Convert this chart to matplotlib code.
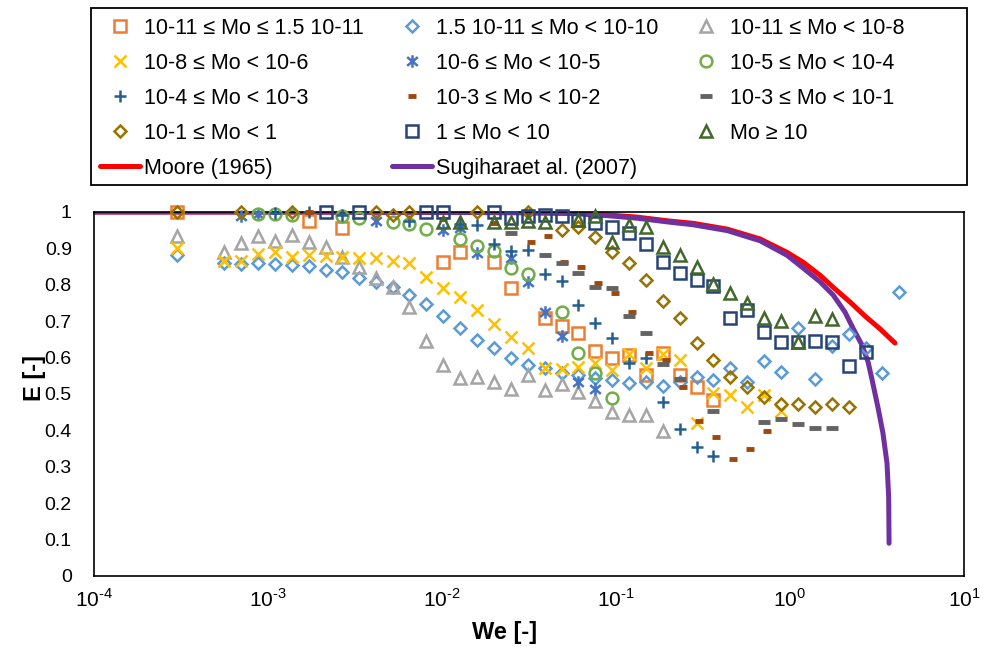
import matplotlib
matplotlib.use("Agg")
import matplotlib.pyplot as plt
from matplotlib.path import Path
from matplotlib.patches import Rectangle
from matplotlib.ticker import FuncFormatter, LogLocator, NullLocator, MultipleLocator
import math

plt.rcParams['font.family'] = ['Liberation Sans', 'DejaVu Sans']
plt.rcParams['mathtext.fontset'] = 'custom'
plt.rcParams['mathtext.rm'] = 'Liberation Sans'

# ---- data (We, E) ----
labels = ["10-11 \u2264 Mo \u2264 1.5 10-11", "1.5 10-11 \u2264 Mo < 10-10", "10-11 \u2264 Mo < 10-8",
          "10-8 \u2264 Mo < 10-6", "10-6 \u2264 Mo < 10-5", "10-5 \u2264 Mo < 10-4",
          "10-4 \u2264 Mo < 10-3", "10-3 \u2264 Mo < 10-2", "10-3 \u2264 Mo < 10-1",
          "10-1 \u2264 Mo < 1", "1 \u2264 Mo < 10", "Mo \u2265 10"]

we1 = [3.00e-4, 1.72e-3, 2.66e-3, 1.01e-2, 1.27e-2, 1.99e-2, 2.49e-2, 3.91e-2, 4.90e-2, 6.05e-2,
       7.57e-2, 9.48e-2, 0.119, 0.149, 0.186, 0.233, 0.292, 0.361]
e1 = [1.0, 0.975, 0.956, 0.863, 0.89, 0.863, 0.79, 0.71, 0.687, 0.667,
      0.618, 0.60, 0.607, 0.552, 0.612, 0.552, 0.52, 0.484]

we2 = [3.00e-4, 5.58e-4, 7.00e-4, 8.77e-4, 1.10e-3, 1.37e-3, 1.72e-3, 2.15e-3, 2.66e-3, 3.33e-3,
       4.18e-3, 5.22e-3, 6.45e-3, 8.1e-3, 1.01e-2, 1.27e-2, 1.59e-2, 1.99e-2, 2.49e-2, 3.12e-2,
       3.91e-2, 4.90e-2, 6.05e-2, 7.57e-2, 9.48e-2, 0.119, 0.149, 0.186, 0.233, 0.292,
       0.361, 0.452, 0.566, 0.710, 0.888, 1.11, 1.39, 1.74, 2.18, 2.73, 3.37, 4.24]
e2 = [0.882, 0.86, 0.857, 0.86, 0.857, 0.854, 0.852, 0.84, 0.835, 0.82,
      0.808, 0.794, 0.772, 0.747, 0.714, 0.681, 0.648, 0.626, 0.599, 0.58,
      0.571, 0.558, 0.552, 0.544, 0.538, 0.53, 0.533, 0.522, 0.533, 0.547,
      0.538, 0.571, 0.533, 0.59, 0.56, 0.681, 0.541, 0.632, 0.665, 0.626, 0.558, 0.78]

we3 = [3.00e-4, 5.58e-4, 7.00e-4, 8.77e-4, 1.10e-3, 1.37e-3, 1.72e-3, 2.15e-3, 2.66e-3, 3.33e-3,
       4.18e-3, 5.22e-3, 6.45e-3, 8.1e-3, 1.01e-2, 1.27e-2, 1.59e-2, 1.99e-2, 2.49e-2, 3.12e-2,
       3.91e-2, 4.90e-2, 6.05e-2, 7.57e-2, 9.48e-2, 0.119, 0.149, 0.186]
e3 = [0.934, 0.89, 0.915, 0.934, 0.92, 0.937, 0.918, 0.904, 0.876, 0.849,
      0.819, 0.794, 0.739, 0.646, 0.58, 0.544, 0.547, 0.533, 0.514, 0.552,
      0.511, 0.527, 0.505, 0.481, 0.451, 0.441, 0.441, 0.398]

we4 = [3.00e-4, 5.58e-4, 7.00e-4, 8.77e-4, 1.10e-3, 1.37e-3, 1.72e-3, 2.15e-3, 2.66e-3, 3.33e-3,
       4.18e-3, 5.22e-3, 6.45e-3, 8.1e-3, 1.01e-2, 1.27e-2, 1.59e-2, 1.99e-2, 2.49e-2, 3.12e-2,
       3.91e-2, 4.90e-2, 6.05e-2, 7.57e-2, 9.48e-2, 0.119, 0.149, 0.186, 0.233, 0.292,
       0.361, 0.452, 0.566, 0.710, 0.888]
e4 = [0.901, 0.865, 0.865, 0.885, 0.89, 0.876, 0.882, 0.879, 0.876, 0.874,
      0.874, 0.865, 0.86, 0.821, 0.791, 0.766, 0.731, 0.692, 0.657, 0.627,
      0.571, 0.568, 0.574, 0.585, 0.566, 0.61, 0.571, 0.61, 0.593, 0.42,
      0.503, 0.497, 0.464, 0.497, 0.453]

we5 = [7.00e-4, 8.77e-4, 4.18e-3, 1.01e-2, 1.27e-2, 1.59e-2, 2.49e-2, 3.12e-2, 3.91e-2, 4.90e-2,
       6.05e-2, 7.57e-2]
e5 = [0.99, 0.995, 0.975, 0.95, 0.956, 0.887, 0.875, 0.807, 0.725, 0.66, 0.533, 0.513]

we6 = [8.77e-4, 1.10e-3, 1.37e-3, 2.66e-3, 3.33e-3, 5.22e-3, 6.5e-3, 8.1e-3, 1.27e-2, 1.59e-2,
       1.99e-2, 2.49e-2, 3.12e-2, 4.90e-2, 6.05e-2, 7.57e-2, 9.48e-2]
e6 = [0.995, 0.995, 0.992, 0.99, 0.984, 0.973, 0.967, 0.953, 0.926, 0.907,
      0.893, 0.846, 0.83, 0.725, 0.613, 0.558, 0.489]

we7 = [1.10e-3, 1.72e-3, 2.66e-3, 6.5e-3, 1.27e-2, 1.59e-2, 1.99e-2, 2.49e-2, 3.12e-2, 3.91e-2,
       4.90e-2, 6.05e-2, 7.57e-2, 9.48e-2, 0.119, 0.149, 0.186, 0.233, 0.292, 0.361]
e7 = [0.997, 1.0, 0.992, 0.975, 0.967, 0.964, 0.912, 0.893, 0.896, 0.83,
      0.81, 0.745, 0.695, 0.654, 0.585, 0.599, 0.478, 0.404, 0.354, 0.33]

we8 = [1.72e-3, 1.01e-2, 1.99e-2, 3.24e-2, 4.06e-2, 5.02e-2, 6.30e-2, 7.89e-2, 9.87e-2, 0.124,
       0.155, 0.194, 0.243, 0.300, 0.376, 0.470, 0.589, 0.738]
e8 = [1.0, 0.98, 0.97, 0.918, 0.934, 0.864, 0.848, 0.804, 0.778, 0.725,
      0.614, 0.593, 0.519, 0.426, 0.382, 0.321, 0.349, 0.398]

we9 = [2.49e-2, 3.91e-2, 4.90e-2, 6.05e-2, 7.57e-2, 9.48e-2, 0.119, 0.149, 0.186, 0.233,
       0.361, 0.710, 0.888, 1.11, 1.39, 1.74]
e9 = [0.942, 0.882, 0.86, 0.832, 0.794, 0.791, 0.714, 0.668, 0.582, 0.541,
      0.453, 0.423, 0.431, 0.418, 0.407, 0.407]

we10 = [3.00e-4, 7.00e-4, 1.37e-3, 4.18e-3, 5.22e-3, 6.5e-3, 1.59e-2, 3.12e-2, 4.90e-2, 6.05e-2,
        7.57e-2, 9.48e-2, 0.119, 0.149, 0.186, 0.233, 0.292, 0.361, 0.452, 0.566,
        0.710, 0.888, 1.11, 1.39, 1.74, 2.18]
e10 = [1.0, 1.0, 1.0, 1.0, 0.992, 1.0, 1.0, 1.0, 0.95, 0.959,
       0.931, 0.89, 0.86, 0.813, 0.755, 0.71, 0.64, 0.593, 0.547, 0.519,
       0.492, 0.473, 0.473, 0.464, 0.473, 0.464]

we11 = [2.15e-3, 3.33e-3, 8.1e-3, 1.01e-2, 1.99e-2, 2.49e-2, 3.12e-2, 3.91e-2, 4.90e-2, 6.05e-2,
        7.57e-2, 9.48e-2, 0.119, 0.149, 0.186, 0.233, 0.292, 0.361, 0.452, 0.566,
        0.710, 0.888, 1.11, 1.39, 1.74, 2.18, 2.73]
e11 = [1.0, 1.0, 1.0, 1.0, 1.0, 0.984, 0.988, 0.992, 0.99, 0.979,
       0.97, 0.959, 0.942, 0.912, 0.863, 0.832, 0.813, 0.797, 0.709, 0.731,
       0.67, 0.643, 0.643, 0.646, 0.643, 0.577, 0.615]

we12 = [1.01e-2, 1.27e-2, 1.99e-2, 2.49e-2, 3.12e-2, 3.91e-2, 6.05e-2, 7.57e-2, 9.48e-2, 0.119,
        0.149, 0.186, 0.233, 0.292, 0.361, 0.452, 0.566, 0.710, 0.888, 1.11, 1.39, 1.74]
e12 = [0.973, 0.973, 0.973, 0.973, 0.975, 0.973, 0.978, 0.989, 0.918, 0.964,
       0.959, 0.904, 0.882, 0.849, 0.802, 0.777, 0.75, 0.709, 0.70, 0.643, 0.714, 0.706]

# model curves
we_moore = [1e-4, 1e-3, 1e-2, 0.03, 0.0545, 0.0841, 0.132, 0.204, 0.277, 0.435, 0.673,
            0.962, 1.19, 1.49, 1.81, 2.21, 2.70, 3.29, 4.01]
e_moore = [1.0, 1.0, 0.999, 0.998, 0.997, 0.993, 0.986, 0.975, 0.969, 0.953, 0.926,
           0.889, 0.862, 0.826, 0.789, 0.753, 0.714, 0.679, 0.64]
we_sug = [1e-4, 1e-3, 1e-2, 0.03, 0.0545, 0.0841, 0.132, 0.204, 0.277, 0.435, 0.673, 0.962,
          1.19, 1.49, 1.77, 2.07, 2.30, 2.59, 2.81, 2.96, 3.20, 3.42, 3.61, 3.69, 3.71]
e_sug = [1.0, 1.0, 0.999, 0.998, 0.996, 0.991, 0.983, 0.972, 0.965, 0.949, 0.921, 0.881,
         0.846, 0.808, 0.772, 0.725, 0.681, 0.635, 0.588, 0.54, 0.464, 0.393, 0.31, 0.217, 0.09]

series_we = [we1, we2, we3, we4, we5, we6, we7, we8, we9, we10, we11, we12]
series_e = [e1, e2, e3, e4, e5, e6, e7, e8, e9, e10, e11, e12]

# asterisk marker like the spreadsheet "star"
star = Path([(0, -1), (0, 1), (-0.85, -0.7), (0.85, 0.7), (-0.85, 0.7), (0.85, -0.7)],
            [Path.MOVETO, Path.LINETO, Path.MOVETO, Path.LINETO, Path.MOVETO, Path.LINETO])

# marker, colour, size, edge width
styles = [('s', '#ED7D31', 8.5, 1.8),
          ('D', '#5B9BD5', 6.5, 1.8),
          ('^', '#A5A5A5', 9, 1.8),
          ('x', '#FFC000', 8.5, 1.8),
          (star, '#4472C4', 9, 1.8),
          ('o', '#70AD47', 8.5, 1.8),
          ('+', '#255E91', 9, 1.8),
          ('_', '#9E480E', 5.5, 3.5),
          ('_', '#636363', 9, 3.5),
          ('D', '#997300', 6.5, 1.8),
          ('s', '#264478', 8.5, 1.8),
          ('^', '#43682B', 9, 1.8)]

fig = plt.figure(figsize=(9.85, 6.48), dpi=100)
ax = fig.add_axes([94 / 985, 1 - 576 / 648, 870 / 985, 364 / 648])

handles = []
for we, e, lab, (m, c, ms, mew) in zip(series_we, series_e, labels, styles):
    h, = ax.plot(we, e, linestyle='none', marker=m, markersize=ms, markeredgewidth=mew,
                 markeredgecolor=c, markerfacecolor='none', color=c, label=lab,
                 zorder=3, clip_on=False)
    handles.append(h)

h_moore, = ax.plot(we_moore, e_moore, color='#FF0000', lw=3.6, solid_capstyle='round',
                   solid_joinstyle='round', label='Moore (1965)', zorder=2)
h_sug, = ax.plot(we_sug, e_sug, color='#7030A0', lw=3.6, solid_capstyle='round',
                 solid_joinstyle='round', label='Sugiharaet al. (2007)', zorder=2.5)


def decade_label(v, pos):
    p = int(round(math.log10(v)))
    exp = r'\text{-}%d' % abs(p) if p < 0 else '%d' % p
    return r'$10^{%s}$' % exp


ax.set_xscale('log')
ax.set_xlim(1e-4, 10)
ax.set_ylim(0, 1)
ax.xaxis.set_major_locator(LogLocator(base=10, numticks=10))
ax.xaxis.set_minor_locator(NullLocator())
ax.xaxis.set_major_formatter(FuncFormatter(decade_label))
ax.yaxis.set_major_locator(MultipleLocator(0.1))
ax.yaxis.set_major_formatter(FuncFormatter(lambda v, p: '%g' % round(v, 2)))
ax.tick_params(axis='both', length=0, labelsize=14)
ax.tick_params(axis='y', pad=16)
ax.tick_params(axis='x', pad=9, labelsize=15)
for s in ax.spines.values():
    s.set_color('black')
    s.set_linewidth(1.2)

ax.set_xlabel('We [-]', fontsize=17, fontweight='bold')
ax.set_ylabel('E [-]', fontsize=17, fontweight='bold')
ax.xaxis.set_label_coords((505 - 94) / 870, (576 - 632) / 364)
ax.xaxis.label.set_va('center')
ax.yaxis.set_label_coords((34 - 94) / 870, (576 - 378) / 364)
ax.yaxis.label.set_va('center')

# legend filled row by row like the original
order = [handles[0], handles[3], handles[6], handles[9], h_moore,
         handles[1], handles[4], handles[7], handles[10], h_sug,
         handles[2], handles[5], handles[8], handles[11]]
fig.legend(order, [h.get_label() for h in order], ncol=3, loc='upper left',
           bbox_to_anchor=(100 / 985, 1 - 18 / 648), frameon=False, fontsize=15.5,
           handlelength=1.85, handletextpad=0.2, columnspacing=1.3, labelspacing=0.65,
           borderpad=0, borderaxespad=0)
fig.patches.append(Rectangle((91 / 985, 1 - 185 / 648), 876 / 985, 177 / 648,
                             transform=fig.transFigure, fill=False, edgecolor='black', lw=1.3))

fig.savefig('out.png', dpi=100)
